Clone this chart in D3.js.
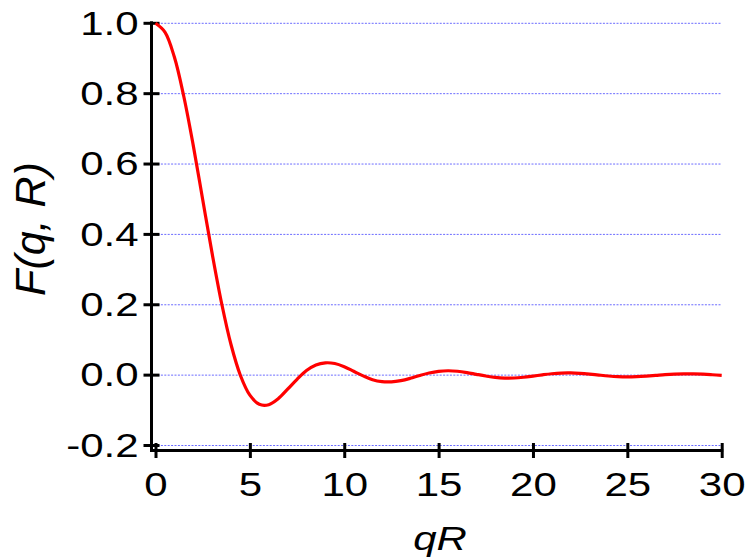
<!DOCTYPE html>
<html>
<head>
<meta charset="utf-8">
<script src="https://cdn.jsdelivr.net/npm/d3@7"></script>
<style>
  body { margin: 0; background: #fff; }
  svg { display: block; font-family: "Liberation Sans", Arial, sans-serif; }
</style>
</head>
<body>
<svg></svg>
<script>
const qR = [
  0, 0.5, 1, 1.5, 2, 2.5, 3, 3.5, 4, 4.5,
  5, 5.5, 6, 6.5, 7, 7.5, 8, 8.5, 9, 9.5,
  10, 10.5, 11, 11.5, 12, 12.5, 13, 13.5, 14, 14.5,
  15, 15.5, 16, 16.5, 17, 17.5, 18, 18.5, 19, 19.5,
  20, 20.5, 21, 21.5, 22, 22.5, 23, 23.5, 24, 24.5,
  25, 25.5, 26, 26.5, 27, 27.5, 28, 28.5, 29, 29.5, 30]

const F = [
  1.000, 0.975, 0.904, 0.792, 0.653, 0.499, 0.346, 0.205, 0.087, -0.001,
  -0.057, -0.083, -0.084, -0.067, -0.040, -0.012, 0.013, 0.029, 0.035, 0.033,
  0.024, 0.011, -0.002, -0.013, -0.0185, -0.019, -0.0155, -0.009, -0.001, 0.006,
  0.0107, 0.0124, 0.011, 0.0073, 0.0023, -0.0025, -0.0065, -0.0084, -0.0082, -0.006,
  -0.0027, 0.0009, 0.004, 0.0059, 0.0062, 0.005, 0.0028, 0.0001, -0.0024, -0.0042,
  -0.0048, -0.0042, -0.0027, -0.0007, 0.0014, 0.0029, 0.0037, 0.0036, 0.0026, 0.0011, -0.0006]

const xTicks = [0, 5, 10, 15, 20, 25, 30]
const yTicks = [-0.2, 0, 0.2, 0.4, 0.6, 0.8, 1.0]
const yTickLabels = ["-0.2", "0.0", "0.2", "0.4", "0.6", "0.8", "1.0"]

const width = 745
const height = 560

const svg = d3.select("svg")
      .attr("width", width)
      .attr("height", height)

const x = d3.scaleLinear().domain([0, 30]).range([155.5, 721.7])
const y = d3.scaleLinear().domain([-0.2, 1.0]).range([445.5, 23.3])

const axisX = 151.5   // y axis line sits a bit left of qR = 0
const axisY = 450.5
const squash = "scale(1,0.8)"   // the labels look wide and flat

// dotted grid lines
svg.append("g")
      .selectAll("line")
      .data(yTicks)
      .join("line")
      .attr("x1", x(0) + 2)
      .attr("x2", x(30))
      .attr("y1", d => y(d))
      .attr("y2", d => y(d))
      .attr("stroke", "#6b6bff")
      .attr("stroke-width", 1)
      .attr("stroke-dasharray", "2,1.4")

// y axis (labels from d3.axisLeft, ticks drawn across the line)
const gy = svg.append("g")
      .attr("transform", `translate(${axisX},0)`)
      .call(d3.axisLeft(y).tickValues(yTicks)
            .tickFormat((d, i) => yTickLabels[i])
            .tickSize(7.5).tickPadding(5.5))
gy.select(".domain").remove()
gy.selectAll(".tick line").remove()
gy.selectAll(".tick text")
      .attr("font-size", 42)
      .attr("fill", "#000")
      .attr("transform", squash)

svg.append("g")
      .selectAll("rect")
      .data(yTicks)
      .join("rect")
      .attr("x", axisX - 8)
      .attr("width", 16)
      .attr("y", d => y(d) - 1.5)
      .attr("height", 3)
      .attr("fill", "#000")

svg.append("rect")
      .attr("x", axisX - 1.5)
      .attr("width", 3)
      .attr("y", y(1.0) - 2)
      .attr("height", axisY - y(1.0) + 2)
      .attr("fill", "#000")

// x axis
const gx = svg.append("g")
      .attr("transform", `translate(0,${axisY})`)
      .call(d3.axisBottom(x).tickValues(xTicks).tickSize(7.5).tickPadding(19))
gx.select(".domain").remove()
gx.selectAll(".tick line").attr("y1", -7.5).attr("stroke-width", 3).attr("stroke", "#000")
gx.selectAll(".tick text")
      .attr("font-size", 42)
      .attr("fill", "#000")
      .attr("transform", squash)
gx.append("line")
      .attr("x1", axisX - 1.5).attr("x2", x(30) + 1.5)
      .attr("y1", 0).attr("y2", 0)
      .attr("stroke", "#000").attr("stroke-width", 3)

// curve
const line = d3.line()
      .x((d, i) => x(qR[i]))
      .y(d => y(d))
      .curve(d3.curveCatmullRom.alpha(0.5))

svg.append("path")
      .datum(F)
      .attr("d", line)
      .attr("fill", "none")
      .attr("stroke", "#ff0000")
      .attr("stroke-width", 3.2)

// axis titles
svg.append("text")
      .attr("transform", "translate(440,550) " + squash)
      .attr("text-anchor", "middle")
      .attr("font-size", 42)
      .attr("font-style", "italic")
      .text("qR")

svg.append("text")
      .attr("transform", "translate(45,229) rotate(-90)")
      .attr("text-anchor", "middle")
      .attr("font-size", 43)
      .attr("font-style", "italic")
      .text("F(q, R)")
</script>
</body>
</html>
